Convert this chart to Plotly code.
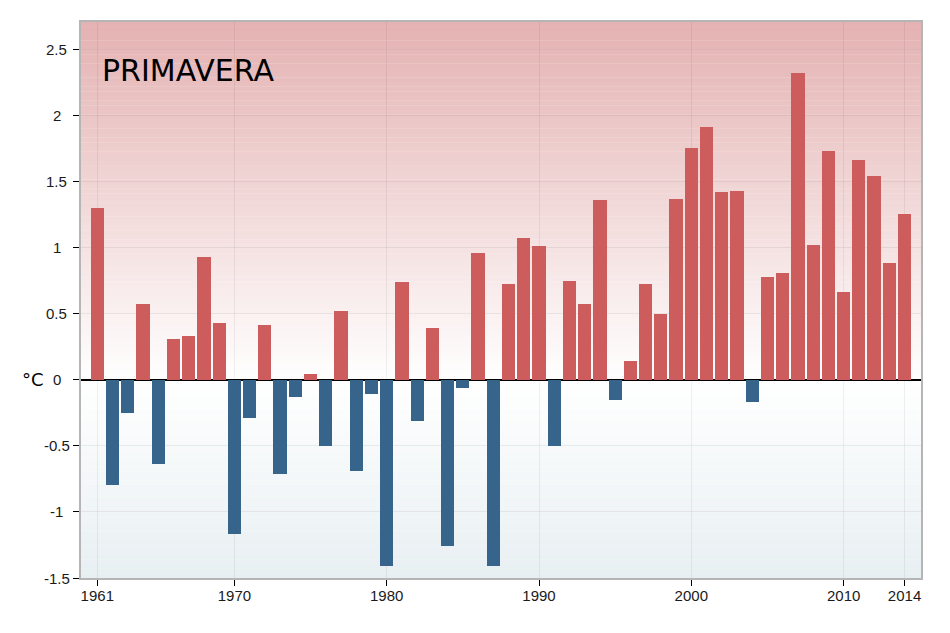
import plotly.graph_objects as go
import numpy as np

# ---- data ----
years = list(range(1961, 2015))
anomaly = [
    1.30, -0.80, -0.25, 0.57, -0.64, 0.31, 0.33, 0.93, 0.43, -1.17,   # 1961-1970
    -0.29, 0.41, -0.71, -0.13, 0.04, -0.50, 0.52, -0.69, -0.11, -1.41,  # 1971-1980
    0.74, -0.31, 0.39, -1.26, -0.06, 0.96, -1.41, 0.72, 1.07, 1.01,     # 1981-1990
    -0.50, 0.75, 0.57, 1.36, -0.15, 0.14, 0.72, 0.50, 1.37, 1.75,       # 1991-2000
    1.91, 1.42, 1.43, -0.17, 0.78, 0.81, 2.32, 1.02, 1.73, 0.66,        # 2001-2010
    1.66, 1.54, 0.88, 1.25,                                             # 2011-2014
]
x_ticks = [1961, 1970, 1980, 1990, 2000, 2010, 2014]
y_ticks = [2.5, 2, 1.5, 1, 0.5, 0, -0.5, -1, -1.5]
y_tick_labels = ["2.5", "2", "1.5", "1", "0.5", "0", "-0.5", "-1", "-1.5"]
title_text = "PRIMAVERA"
unit_text = "°C"

# ---- style ----
RED = "#cd5c5c"
BLUE = "#36648b"
Y_MIN, Y_MAX = -1.5, 2.705
X_MIN, X_MAX = 1959.93, 2015.08
TOP_COL = (228, 178, 178)
MID_COL = (255, 255, 255)
BOT_COL = (232, 239, 242)
TICK_FONT = dict(family="Liberation Sans, Arial, sans-serif", size=15, color="#1a1a1a")

colors = [RED if v >= 0 else BLUE for v in anomaly]

fig = go.Figure()
fig.add_trace(go.Bar(
    x=years, y=anomaly, width=0.87,
    marker=dict(color=colors, line=dict(width=0)),
    hoverinfo="x+y", showlegend=False,
))

# background gradient built from many thin bands (layer below grid)
shapes = []
n = 120
edges = np.linspace(Y_MIN, Y_MAX, n + 1)
for i in range(n):
    y0, y1 = edges[i], edges[i + 1]
    yc = (y0 + y1) / 2
    if yc >= 0:
        t = yc / Y_MAX
        c = [MID_COL[k] + (TOP_COL[k] - MID_COL[k]) * t for k in range(3)]
    else:
        t = yc / Y_MIN
        c = [MID_COL[k] + (BOT_COL[k] - MID_COL[k]) * t for k in range(3)]
    col = "rgb(%d,%d,%d)" % tuple(round(v) for v in c)
    shapes.append(dict(type="rect", xref="paper", yref="y", x0=0, x1=1,
                       y0=y0, y1=y1 + 0.002, fillcolor=col,
                       line=dict(width=0), layer="below"))

annotations = [
    dict(text=title_text, xref="paper", yref="paper", x=0.0226, y=0.913,
         xanchor="left", yanchor="middle", showarrow=False,
         font=dict(family="DejaVu Sans", size=30, color="black")),
    dict(text=unit_text, xref="paper", yref="y", x=0, y=0,
         xanchor="center", yanchor="middle", xshift=-48.5, showarrow=False,
         font=dict(family="DejaVu Sans", size=18, color="black")),
]
# centred y tick labels
for v, lab in zip(y_ticks, y_tick_labels):
    annotations.append(dict(text=lab, xref="paper", yref="y", x=0, y=v,
                            xanchor="center", yanchor="middle", xshift=-24.5,
                            showarrow=False, font=TICK_FONT))

# the page body adds an 8px margin, so the figure is sized to fit inside it
fig.update_layout(
    width=934, height=617,
    margin=dict(l=73, r=21, t=12, b=47),
    paper_bgcolor="white",
    plot_bgcolor="white",
    shapes=shapes,
    bargap=0,
    font=TICK_FONT,
    annotations=annotations,
)
fig.update_xaxes(
    range=[X_MIN, X_MAX], tickmode="array", tickvals=x_ticks,
    ticktext=[str(v) for v in x_ticks], tickfont=TICK_FONT,
    ticklabelstandoff=-3,
    showgrid=True, gridcolor="rgba(0,0,0,0.06)", gridwidth=1,
    ticks="outside", ticklen=6, tickcolor="black", tickwidth=1,
    showline=True, linecolor="#b5b5b5", linewidth=2, mirror=True,
    zeroline=False, fixedrange=True,
)
fig.update_yaxes(
    range=[Y_MIN, Y_MAX], tickmode="array", tickvals=y_ticks,
    showticklabels=False,
    showgrid=True, gridcolor="rgba(0,0,0,0.06)", gridwidth=1,
    ticks="outside", ticklen=6, tickcolor="black", tickwidth=1,
    showline=True, linecolor="#b5b5b5", linewidth=2, mirror=True,
    zeroline=True, zerolinecolor="black", zerolinewidth=1.5, fixedrange=True,
)

fig.write_html("out.html")
